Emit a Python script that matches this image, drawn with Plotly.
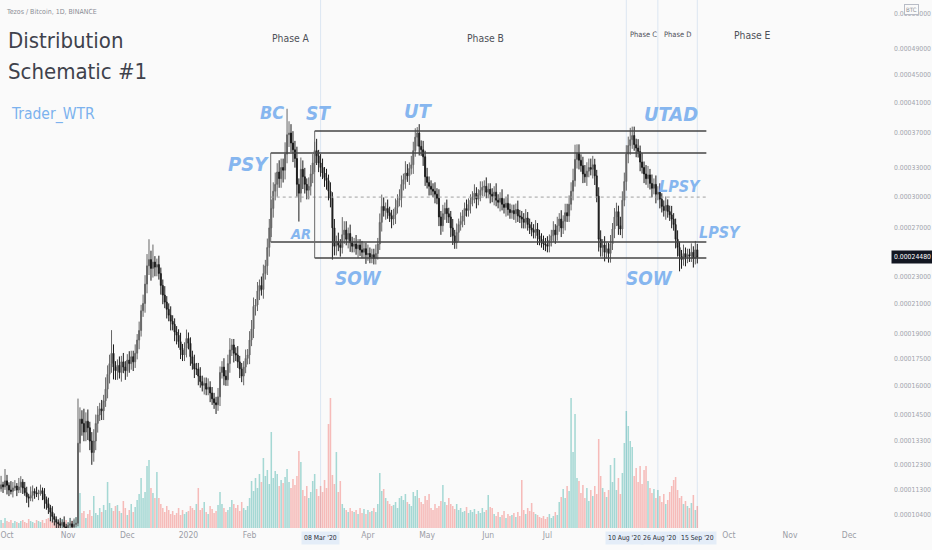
import math
import pandas as pd
import plotly.graph_objects as go

# ---------------- data ----------------
START_DATE = "2019-09-27"
FIRST_OPEN_SATS = 11300
# daily closes, XTZ/BTC in satoshi
CLOSE_SATS = [
    11350, 11500, 11420, 11650, 11480, 11300, 11250, 11380, 11450, 11300,
    11420, 11600, 11380, 11200, 11050, 11000, 11100, 11250, 11200, 11150,
    11200, 11280, 11150, 10950, 10800, 10650, 10500, 10350, 10250, 10150,
    10100, 10050, 10150, 10000, 9950, 10050, 10100, 10000, 10080, 10120,
    13200, 14300, 14100, 13700, 14200, 13900, 13300, 12800, 13300, 14100,
    14500, 14800, 14700, 15200, 15800, 16600, 17200, 17800, 17000, 16800,
    17100, 16700, 17300, 17000, 16800, 17400, 17200, 17600, 17300, 17800,
    18600, 19200, 20500, 21000, 22400, 23800, 24300, 23600, 24100, 23700,
    23900, 23200, 22300, 21600, 21100, 20600, 20200, 19800, 19600, 19100,
    18900, 18500, 18000, 17700, 18100, 18700, 18400, 17600, 17200, 16900,
    16900, 16500, 16200, 16000, 16100, 15800, 15900, 15600, 15300, 15100,
    15000, 15400, 16700, 17000, 16500, 16300, 17200, 18000, 18300, 17800,
    17700, 17300, 16900, 16500, 17000, 17500, 17700, 18600, 19300, 20800,
    20900, 21900, 22300, 22000, 23200, 23800, 25300, 27000, 28800, 30500,
    31200, 32500, 31800, 33000, 32700, 34500, 36800, 37000, 35800, 35000,
    34000, 31200, 30300, 32800, 32000, 31200, 30600, 31000, 32300, 33500,
    34900, 34300, 33500, 33000, 32400, 31900, 31600, 30500, 29800, 27000,
    25400, 25800, 25500, 25300, 26400, 26800, 26000, 26500, 25700, 25400,
    25600, 25200, 25500, 25100, 24900, 25200, 24700, 24800, 24500, 24700,
    24400, 24800, 25600, 27500, 29000, 28600, 28800, 28400, 28100, 27800,
    28200, 28900, 29600, 29800, 31200, 31700, 32400, 32100, 32900, 33300,
    34900, 36500, 37000, 35400, 35000, 34200, 32000, 31400, 31000, 30700,
    30500, 30200, 29800, 28000, 27200, 28300, 28800, 28300, 28000, 27000,
    26300, 25700, 26600, 27300, 27600, 28100, 28800, 28600, 29200, 29600,
    29900, 30300, 29700, 30100, 30600, 30900, 31000, 30400, 30700, 30200,
    30000, 30400, 29600, 29400, 29800, 29200, 28900, 29300, 28700, 28400,
    28600, 28300, 28700, 28100, 28000, 27800, 27500, 27900, 27300, 27000,
    26800, 26600, 26900, 26300, 26000, 25800, 25600, 25500, 25400, 25900,
    26300, 26800, 26400, 27200, 27800, 27000, 27600, 28400, 28100, 29200,
    30500, 31600, 33900, 34600, 33800, 33200, 32300, 32000, 32600, 33000,
    32800, 33300, 32100, 30000, 26000, 25300, 25500, 24900, 25200, 24800,
    25600, 26900, 28000, 28500, 27200, 26900, 29600, 31500, 34500, 35500,
    36200, 36700, 35600, 35200, 34800, 33600, 33000, 32300, 31800, 32200,
    31300, 30800, 31200, 30200, 30400, 29700, 29000, 28600, 29100, 28500,
    28200, 27800, 27300, 26000, 25300, 24600, 24300, 24800, 24500, 24700,
    24600, 24900, 24400, 25100, 24480,
]
# upper / lower wick length, percent of the candle body edge
WICK_UP_PCT = [
    2, 3, 1, 4, 2, 1, 3, 2, 2, 1,  3, 2, 1, 2, 2, 1, 3, 2, 1, 2,
    1, 2, 1, 2, 1, 2, 1, 2, 1, 1,  1, 2, 1, 2, 1, 1, 2, 1, 2, 2,
    16, 4, 3, 5, 3, 4, 2, 3, 4, 3,  3, 2, 3, 2, 4, 3, 3, 8, 3, 2,
    2, 3, 2, 3, 2, 2, 3, 2, 2, 3,  2, 3, 2, 3, 3, 4, 7, 3, 6, 2,
    2, 3, 2, 2, 3, 2, 2, 3, 2, 2,  2, 2, 3, 2, 2, 3, 2, 2, 2, 3,
    2, 2, 3, 2, 2, 2, 3, 2, 2, 2,  2, 3, 2, 2, 3, 2, 3, 4, 2, 2,
    2, 3, 2, 2, 2, 3, 2, 3, 3, 3,  2, 3, 2, 3, 3, 2, 3, 3, 3, 3,
    4, 3, 4, 3, 3, 4, 9, 4, 3, 4,  3, 4, 2, 4, 3, 3, 2, 3, 3, 3,
    3, 4, 2, 3, 3, 2, 3, 2, 3, 2,  3, 2, 3, 2, 6, 3, 3, 2, 3, 2,
    2, 3, 2, 2, 3, 2, 2, 3, 2, 2,  2, 3, 2, 3, 4, 3, 2, 3, 2, 2,
    2, 3, 2, 3, 3, 2, 4, 3, 2, 3,  3, 3, 2, 3, 2, 3, 2, 3, 2, 2,
    2, 3, 2, 3, 2, 3, 2, 3, 2, 2,  3, 2, 3, 2, 3, 2, 2, 3, 2, 2,
    2, 3, 2, 2, 3, 2, 2, 3, 2, 2,  2, 2, 3, 2, 2, 3, 2, 2, 3, 2,
    2, 2, 2, 3, 2, 2, 2, 3, 2, 2,  2, 2, 3, 2, 2, 2, 2, 2, 3, 2,
    2, 3, 2, 3, 2, 3, 2, 3, 3, 3,  3, 4, 5, 3, 3, 2, 3, 3, 3, 3,
    3, 3, 2, 2, 3, 3, 2, 3, 2, 2,  3, 2, 3, 3, 2, 3, 3, 3, 3, 3,
    4, 3, 3, 2, 3, 2, 3, 2, 3, 3,  2, 3, 2, 3, 2, 3, 2, 2, 3, 2,
    2, 3, 2, 2, 3, 2, 2, 3, 2, 2,  2, 3, 2, 3, 2,
]
WICK_DN_PCT = [
    2, 1, 2, 1, 3, 2, 1, 2, 1, 2,  1, 2, 2, 1, 2, 3, 1, 2, 2, 1,
    2, 1, 2, 3, 2, 2, 3, 2, 2, 3,  2, 3, 2, 2, 3, 2, 2, 3, 2, 1,
    1, 3, 4, 3, 3, 4, 3, 4, 3, 3,  3, 2, 3, 3, 2, 3, 3, 3, 4, 3,
    3, 2, 3, 2, 3, 2, 3, 2, 3, 2,  2, 3, 2, 2, 3, 3, 3, 4, 3, 3,
    3, 2, 3, 3, 2, 3, 2, 3, 2, 3,  3, 2, 3, 2, 2, 3, 2, 3, 2, 3,
    2, 3, 2, 2, 3, 2, 2, 3, 2, 2,  3, 2, 3, 2, 3, 2, 2, 3, 2, 3,
    2, 2, 3, 2, 3, 2, 2, 3, 2, 3,  3, 2, 3, 2, 3, 2, 3, 3, 3, 3,
    3, 4, 3, 3, 4, 3, 3, 4, 3, 4,  3, 4, 9, 3, 4, 3, 3, 3, 3, 3,
    3, 3, 3, 3, 2, 3, 3, 3, 3, 10,  3, 3, 2, 3, 2, 3, 2, 3, 3, 2,
    2, 2, 3, 2, 2, 2, 3, 2, 2, 2,  2, 2, 2, 2, 3, 2, 3, 2, 2, 3,
    2, 3, 2, 2, 3, 2, 3, 2, 3, 2,  3, 2, 3, 3, 2, 3, 3, 2, 3, 2,
    2, 3, 2, 3, 3, 2, 2, 3, 2, 3,  3, 2, 2, 3, 2, 2, 3, 2, 2, 3,
    2, 2, 3, 2, 2, 2, 3, 2, 2, 3,  2, 3, 2, 2, 3, 2, 2, 3, 2, 2,
    2, 2, 3, 2, 2, 3, 2, 2, 2, 2,  2, 2, 2, 3, 2, 2, 2, 2, 2, 2,
    2, 2, 3, 2, 2, 3, 2, 3, 2, 2,  2, 3, 2, 3, 3, 2, 3, 2, 3, 2,
    2, 3, 3, 2, 4, 3, 3, 3, 2, 3,  3, 2, 3, 3, 3, 2, 3, 2, 3, 3,
    3, 3, 2, 3, 2, 3, 2, 3, 2, 3,  2, 3, 2, 3, 2, 3, 2, 2, 3, 2,
    2, 3, 2, 3, 3, 5, 3, 2, 3, 2,  2, 2, 3, 2, 2,
]
# daily volume, thousand XTZ
VOLUME_K = [
    180, 240, 150, 300, 210, 180, 240, 150, 210, 180,
    150, 210, 240, 180, 150, 270, 210, 180, 150, 240,
    210, 180, 240, 150, 270, 300, 240, 180, 210, 150,
    180, 210, 270, 150, 240, 180, 300, 210, 240, 330,
    870, 1050, 450, 510, 300, 420, 540, 360, 960, 450,
    390, 600, 480, 690, 540, 1380, 750, 600, 510, 660,
    690, 510, 450, 810, 600, 390, 540, 720, 480, 630,
    840, 1020, 1500, 900, 1080, 1860, 2040, 1200, 1050, 900,
    1680, 900, 720, 600, 480, 660, 540, 420, 510, 390,
    450, 600, 390, 540, 420, 480, 510, 660, 600, 540,
    720, 1200, 540, 600, 780, 480, 420, 660, 570, 450,
    510, 690, 1080, 720, 600, 480, 540, 630, 840, 720,
    600, 690, 510, 780, 600, 540, 660, 900, 1410, 1110,
    1500, 1200, 1620, 1380, 2100, 1560, 1740, 1320, 2880, 1500,
    1710, 1620, 1260, 1440, 1350, 1530, 1770, 1380, 1200, 1470,
    1290, 1560, 2310, 1980, 1140, 960, 1260, 900, 1080, 1410,
    1620, 1170, 960, 1260, 1080, 1440, 1200, 3120, 3900, 1590,
    1320, 2280, 1080, 1410, 720, 600, 540, 480, 600, 510,
    480, 540, 420, 600, 450, 570, 420, 540, 480, 510,
    600, 480, 720, 1650, 1110, 1170, 900, 810, 720, 660,
    690, 780, 600, 900, 960, 840, 1020, 780, 720, 660,
    1080, 960, 1140, 900, 780, 720, 960, 840, 1020, 600,
    540, 720, 600, 660, 810, 1290, 780, 690, 900, 720,
    660, 570, 720, 540, 600, 480, 510, 630, 450, 540,
    480, 570, 420, 510, 450, 600, 480, 540, 990, 630,
    600, 420, 360, 480, 330, 390, 510, 300, 420, 360,
    390, 450, 330, 480, 360, 1440, 540, 420, 600, 510,
    750, 480, 420, 390, 330, 300, 360, 270, 330, 420,
    300, 360, 480, 390, 780, 930, 1170, 900, 1260, 1110,
    3900, 2280, 3420, 1500, 1410, 1050, 1290, 900, 1200, 810,
    1140, 960, 1260, 1020, 2670, 1560, 1200, 1080, 930, 1140,
    1890, 1380, 2100, 1140, 1500, 1020, 1650, 2550, 3510, 3060,
    2610, 2430, 1560, 1800, 1380, 1860, 1320, 1740, 1860, 1410,
    1200, 1050, 1170, 900, 1140, 960, 780, 1020, 720, 840,
    1080, 1260, 1440, 1530, 1140, 900, 960, 720, 810, 660,
    600, 750, 990, 540, 660,
]

# drawn Wyckoff levels (BTC)
LEVEL_PRICES = [0.0003725, 0.0003462, 0.0002991, 0.0002576, 0.0002443]
LEVEL_STARTS = ["2020-03-05", "2020-02-11 17:00", "2020-02-11 17:00",
                "2020-02-11 17:00", "2020-03-05"]
LEVEL_DASHED = [False, False, True, False, False]
LEVEL_END = "2020-09-19 14:00"
PHASE_DATES = ["2020-03-08", "2020-08-10", "2020-08-26", "2020-09-15"]
PHASE_TAGS = ["08 Mar '20", "10 Aug '20", "26 Aug '20", "15 Sep '20"]
LAST_PRICE = 0.00024480

Y_TICKS = [0.00055, 0.00049, 0.00045, 0.00041, 0.00037, 0.00033, 0.00030,
           0.00027, 0.00023, 0.00021, 0.00019, 0.000175, 0.00016,
           0.000145, 0.000133, 0.000123, 0.000113, 0.000104]
X_TICK_DATES = ["2019-10-01", "2019-11-01", "2019-12-01", "2020-01-01",
                "2020-02-01", "2020-04-01", "2020-05-01",
                "2020-06-01", "2020-07-01",
                "2020-10-01", "2020-11-01", "2020-12-01"]
X_TICK_TEXT = ["Oct", "Nov", "Dec", "2020", "Feb", "Apr", "May",
               "Jun", "Jul", "Oct", "Nov", "Dec"]

# ---------------- derived series ----------------
n = min(len(CLOSE_SATS), len(WICK_UP_PCT), len(WICK_DN_PCT), len(VOLUME_K))
dates = pd.date_range(START_DATE, periods=n, freq="D")
closes = [c * 1e-8 for c in CLOSE_SATS[:n]]
opens = [FIRST_OPEN_SATS * 1e-8] + closes[:-1]
highs = [max(o, c) * (1 + u / 100) for o, c, u in zip(opens, closes, WICK_UP_PCT)]
lows = [min(o, c) * (1 - d / 100) for o, c, d in zip(opens, closes, WICK_DN_PCT)]
vol_colors = ["rgba(38,166,154,0.40)" if c >= o else "rgba(239,83,80,0.38)"
              for o, c in zip(opens, closes)]

# ---------------- geometry / style ----------------
W, H = 932, 550
ML, MR, MT, MB = 0, 70, 0, 22
PW, PH = W - ML - MR, H - MT - MB
BG = "#fafafa"
NARROW = "DejaVu Sans Condensed, Liberation Sans Narrow, sans-serif"
BLUE = "#86b6ef"

def px(x):
    return x / PW

def py(y):
    return (PH - y) / PH

fig = go.Figure()

fig.add_trace(go.Bar(x=dates, y=VOLUME_K[:n], marker=dict(color=vol_colors, line_width=0),
                     yaxis="y", hoverinfo="skip"))

fig.add_trace(go.Candlestick(
    x=dates, open=opens, high=highs, low=lows, close=closes, yaxis="y2",
    increasing=dict(line=dict(color="#666666", width=1), fillcolor="#666666"),
    decreasing=dict(line=dict(color="#1a1a1a", width=1), fillcolor="#1a1a1a"),
    whiskerwidth=0, hoverinfo="skip"))

# level lines
for p, s, dashed in zip(LEVEL_PRICES, LEVEL_STARTS, LEVEL_DASHED):
    fig.add_trace(go.Scatter(
        x=[s, LEVEL_END], y=[p, p], mode="lines", yaxis="y2", hoverinfo="skip",
        line=dict(color="#a0a0a0" if dashed else "#444444",
                  width=1 if dashed else 1.6, dash="3px,3px" if dashed else "solid")))
# left edges of the two range boxes
fig.add_trace(go.Scatter(x=[LEVEL_STARTS[1], LEVEL_STARTS[1]], y=[LEVEL_PRICES[1], LEVEL_PRICES[3]],
                         mode="lines", yaxis="y2", line=dict(color="#6a6a6a", width=1), hoverinfo="skip"))
fig.add_trace(go.Scatter(x=[LEVEL_STARTS[0], LEVEL_STARTS[0]], y=[LEVEL_PRICES[0], LEVEL_PRICES[4]],
                         mode="lines", yaxis="y2", line=dict(color="#6a6a6a", width=1), hoverinfo="skip"))

shapes = []
for d in PHASE_DATES:
    shapes.append(dict(type="line", xref="x", yref="paper", x0=d, x1=d, y0=0, y1=1,
                       line=dict(color="#dce6f2", width=1), layer="below"))

ann = []

def text(t, x, y, size, color, family=NARROW, style="normal", weight="normal",
         xanchor="center", yanchor="middle", **kw):
    ann.append(dict(text=t, x=px(x), y=py(y), xref="paper", yref="paper",
                    xanchor=xanchor, yanchor=yanchor, showarrow=False,
                    font=dict(size=size, color=color, family=family, style=style, weight=weight),
                    **kw))

text("Tezos / Bitcoin, 1D, BINANCE", 4, 12, 7, "#8a8d95", xanchor="left")
text("Distribution", 6, 41, 22, "#3f424c", xanchor="left")
text("Schematic #1", 6, 71, 22, "#3f424c", xanchor="left")
text("Trader_WTR", 9, 115, 15.5, "#7cb2ee", xanchor="left")

text("Phase A", 291, 38, 10.3, "#4e5058")
text("Phase B", 485, 38, 10.3, "#4e5058")
text("Phase C", 643, 34, 7.5, "#4e5058")
text("Phase D", 678, 34, 7.5, "#4e5058")
text("Phase E", 752, 35, 10.3, "#4e5058")

for t, x, y, s in [("BC", 272, 113, 18), ("ST", 318, 113, 19), ("UT", 418, 111, 20),
                   ("PSY", 248, 164, 20), ("AR", 300, 234, 14.5), ("SOW", 358, 278, 19),
                   ("UTAD", 671, 114, 20), ("LPSY", 680, 187, 16), ("LPSY", 720, 232, 16),
                   ("SOW", 649, 278, 19)]:
    text(t, x, y, s, BLUE, style="italic", weight="bold")

# last price tag
ann.append(dict(text=f"{LAST_PRICE:.8f}", x=px(891), y=math.log10(LAST_PRICE),
                xref="paper", yref="y2", xanchor="left", yanchor="middle",
                showarrow=False, bgcolor="#131722", borderpad=2,
                font=dict(size=6.8, color="#ffffff", family=NARROW)))
# BTC currency badge
ann.append(dict(text="BTC", x=px(911), y=py(9), xref="paper", yref="paper",
                xanchor="center", yanchor="middle", showarrow=False,
                bgcolor=BG, bordercolor="#b8bcc6", borderwidth=1, borderpad=1,
                font=dict(size=6, color="#8a8d95", family=NARROW)))
# time tags for the phase lines
for d, t, sh in zip(PHASE_DATES, PHASE_TAGS, [0, -2, 2, 0]):
    ann.append(dict(text=t, x=d, y=py(538), xref="x", yref="paper", xshift=sh,
                    xanchor="center", yanchor="middle", showarrow=False,
                    bgcolor="#e4edf8", borderpad=2,
                    font=dict(size=6.8, color="#2a2e39", family=NARROW)))

fig.update_layout(
    width=W, height=H, margin=dict(l=ML, r=MR, t=MT, b=MB, pad=0, autoexpand=False),
    paper_bgcolor=BG, plot_bgcolor=BG, showlegend=False, hovermode=False,
    bargap=0.22,
    xaxis=dict(type="date", range=["2019-09-27 11:00", "2020-12-07 12:00"],
               rangeslider=dict(visible=False), showgrid=False, zeroline=False,
               showline=False, ticks="", tickvals=X_TICK_DATES, ticktext=X_TICK_TEXT,
               tickfont=dict(size=8.5, color="#9a9da6", family=NARROW),
               automargin=False, fixedrange=True),
    yaxis=dict(range=[0, 15840], visible=False, fixedrange=True, automargin=False),
    yaxis2=dict(overlaying="y", side="right", anchor="x", type="log",
                range=[-4.0017, -3.2398], showgrid=False, zeroline=False, showline=False,
                ticks="", tickvals=Y_TICKS, ticktext=[f"{v:.8f}" for v in Y_TICKS],
                tickfont=dict(size=6.8, color="#a2a5ad", family=NARROW),
                ticklabelstandoff=31, automargin=False, fixedrange=True),
    shapes=shapes, annotations=ann,
)

fig.write_html("out.html", config={"displayModeBar": False},
               post_script="document.body.style.margin='0px';document.body.style.padding='0px';")
